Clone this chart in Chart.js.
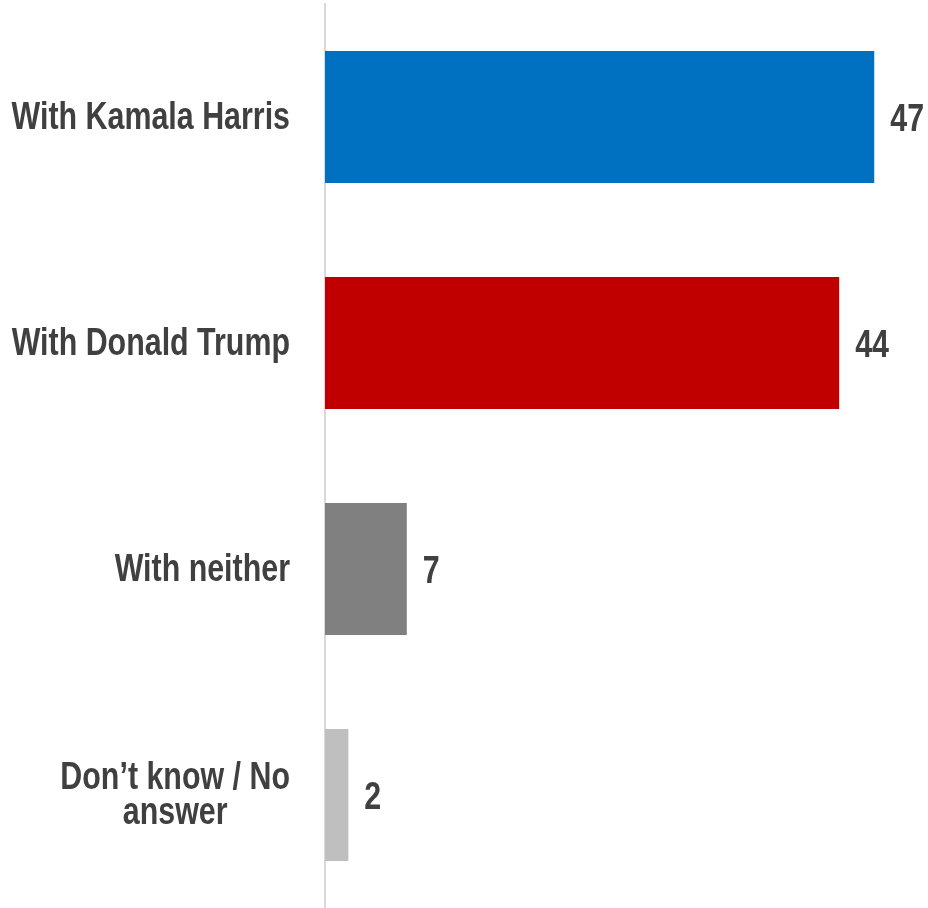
<!DOCTYPE html>
<html>
<head>
<meta charset="utf-8">
<script src="https://cdn.jsdelivr.net/npm/chart.js@4.4.1/dist/chart.umd.min.js"></script>
<style>
  html, body { margin: 0; padding: 0; background: #fff; }
  #wrap { width: 928px; height: 908px; position: relative; }
</style>
</head>
<body>
<div id="wrap"><canvas id="chart"></canvas></div>
<script>
// ------ Data ------
const categories = [['With Kamala Harris'], ['With Donald Trump'], ['With neither'], ['Don’t know / No', 'answer']];
const values = [47, 44, 7, 2];

// ------ Style ------
const barColors = ['#0070C0', '#C00000', '#808080', '#BFBFBF'];
const textColor = '#404040';
const fontFamily = '"Liberation Sans", Arial, sans-serif';
const fontSize = 38;
const narrow = 0.8; // squeeze text horizontally, no narrow font installed

// draw text squeezed horizontally (like Arial Narrow)
function narrowText(ctx, text, x, y, align) {
  const w = ctx.measureText(text).width * narrow;
  let left = x;
  if (align === 'right') left = x - w;
  else if (align === 'center') left = x - w / 2;
  ctx.save();
  ctx.translate(left, y);
  ctx.scale(narrow, 1);
  ctx.textAlign = 'left';
  ctx.fillText(text, 0, 0);
  ctx.restore();
}

// category labels, right aligned; multi-line ones centred on their widest line
const categoryLabels = {
  id: 'categoryLabels',
  afterDraw(chart) {
    const ctx = chart.ctx;
    const y = chart.scales.y;
    const right = y.right - 35;
    ctx.save();
    ctx.font = `bold ${fontSize}px ${fontFamily}`;
    ctx.fillStyle = textColor;
    ctx.textBaseline = 'alphabetic';
    const lineH = 35;
    categories.forEach((lines, i) => {
      const cy = y.getPixelForTick(i) - 2;
      const widest = Math.max(...lines.map(l => ctx.measureText(l).width)) * narrow;
      const top = cy - (lines.length - 1) * lineH / 2 + fontSize * 0.716 / 2;
      lines.forEach((l, j) => {
        if (lines.length > 1) narrowText(ctx, l, right - widest / 2, top + j * lineH, 'center');
        else narrowText(ctx, l, right, top, 'right');
      });
    });
    ctx.restore();
  }
};

// value labels at the end of each bar
const valueLabels = {
  id: 'valueLabels',
  afterDatasetsDraw(chart) {
    const ctx = chart.ctx;
    const meta = chart.getDatasetMeta(0);
    ctx.save();
    ctx.font = `bold ${fontSize}px ${fontFamily}`;
    ctx.fillStyle = textColor;
    ctx.textBaseline = 'alphabetic';
    meta.data.forEach((bar, i) => {
      narrowText(ctx, String(values[i]), bar.x + 16, bar.y + fontSize * 0.716 / 2, 'left');
    });
    ctx.restore();
  }
};

new Chart(document.getElementById('chart'), {
  type: 'bar',
  data: {
    labels: categories.map(l => l.join(' ')),
    datasets: [{
      data: values,
      backgroundColor: barColors,
      borderWidth: 0,
      barPercentage: 0.583,
      categoryPercentage: 1
    }]
  },
  options: {
    indexAxis: 'y',
    responsive: true,
    maintainAspectRatio: false,
    animation: false,
    layout: { padding: { top: 4, right: 0, bottom: 0, left: 0 } },
    plugins: { legend: { display: false }, tooltip: { enabled: false } },
    scales: {
      x: { display: false, min: 0, max: 51.6 },
      y: {
        grid: { display: false },
        border: { display: true, color: '#D9D9D9', width: 2 },
        ticks: { display: false },
        afterFit(scale) { scale.width = 325; }
      }
    }
  },
  plugins: [categoryLabels, valueLabels]
});
</script>
</body>
</html>
